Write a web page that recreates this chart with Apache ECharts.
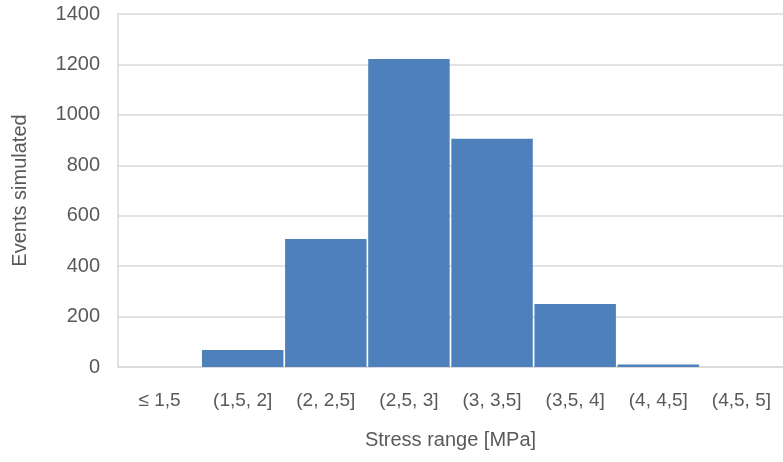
<!DOCTYPE html>
<html><head><meta charset="utf-8">
<script src="https://cdn.jsdelivr.net/npm/echarts@6/dist/echarts.min.js"></script>
<style>html,body{margin:0;padding:0;background:#fff}#c{width:783px;height:462px}</style>
</head><body><div id="c"></div>
<script>
const categories = ['≤ 1,5', '(1,5, 2]', '(2, 2,5]', '(2,5, 3]', '(3, 3,5]', '(3,5, 4]', '(4, 4,5]', '(4,5, 5]'];
const events = [0, 67, 508, 1222, 905, 250, 10, 0];
const yTicks = [0, 200, 400, 600, 800, 1000, 1200, 1400];
const xTitle = 'Stress range [MPa]';
const yTitle = 'Events simulated';

const font = "'Liberation Sans', 'DejaVu Sans', sans-serif";
const chart = echarts.init(document.getElementById('c'));
chart.setOption({
  animation: false,
  grid: { left: 118, right: 0, top: 14, bottom: 95, containLabel: false, outerBoundsMode: 'none' },
  xAxis: {
    type: 'category', data: categories,
    name: xTitle, nameLocation: 'middle', nameGap: 63,
    nameTextStyle: { color: '#595959', fontSize: 20, fontFamily: font },
    axisLine: { show: true, lineStyle: { color: '#d9d9d9', width: 1.5 } },
    axisTick: { show: false },
    axisLabel: { color: '#595959', fontSize: 19, fontFamily: font, margin: 24, interval: 0 }
  },
  yAxis: {
    type: 'value', min: yTicks[0], max: yTicks[yTicks.length - 1], interval: 200,
    name: yTitle, nameLocation: 'middle', nameGap: 88,
    nameTextStyle: { color: '#595959', fontSize: 20, fontFamily: font },
    axisLine: { show: true, lineStyle: { color: '#d9d9d9', width: 1.5 } },
    axisTick: { show: false },
    axisLabel: { color: '#595959', fontSize: 20, fontFamily: font, margin: 18, formatter: v => String(v) },
    splitLine: { lineStyle: { color: '#d9d9d9', width: 1.5 } }
  },
  series: [{
    type: 'bar', data: events, barCategoryGap: '2%',
    itemStyle: { color: '#4e80bc' }
  }]
});
</script></body></html>
